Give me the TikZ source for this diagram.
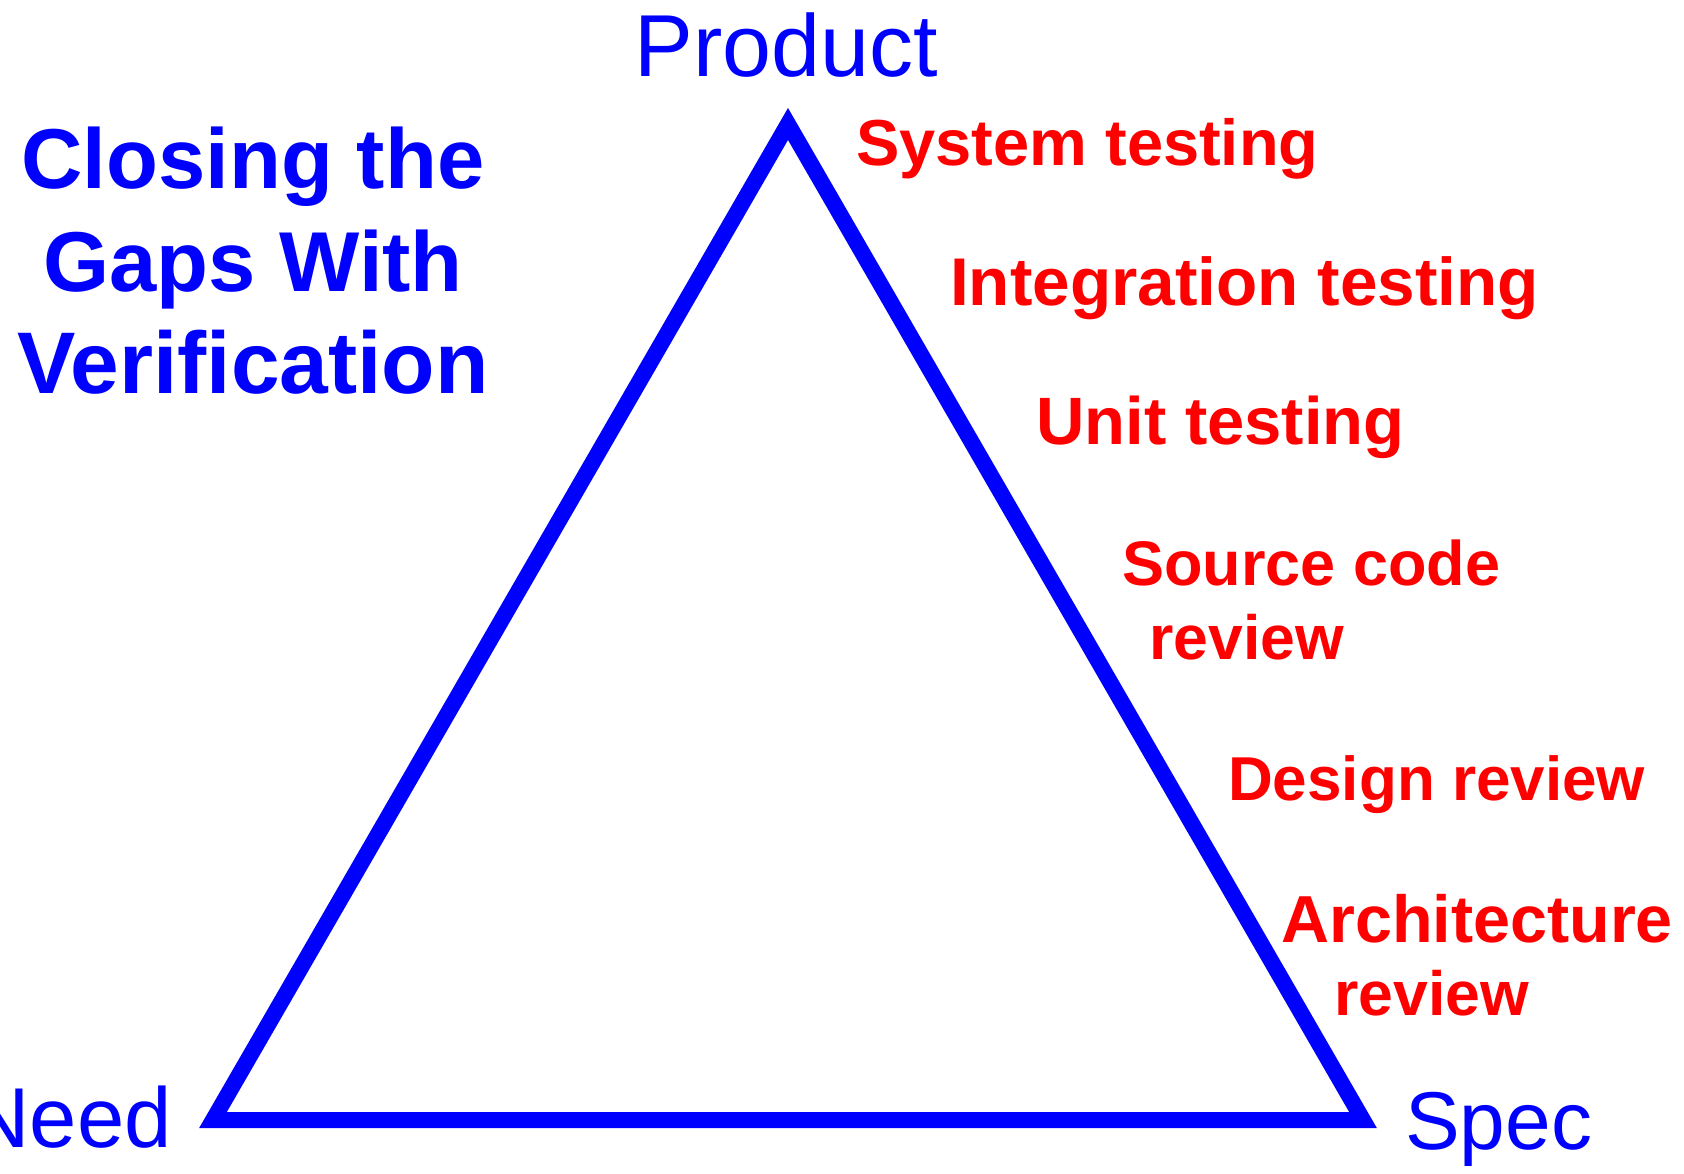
\documentclass[tikz,border=0pt]{standalone}
\usepackage{fontspec}
\setmainfont{Liberation Sans}
\definecolor{vblue}{RGB}{0,0,255}
\definecolor{vred}{RGB}{255,0,0}
\tikzset{
  tri/.style={draw=vblue, line width=16pt, line join=miter},
  corner/.style={text=vblue, inner sep=0pt, anchor=base},
  titletext/.style={text=vblue, inner sep=0pt, anchor=base, font=\fontsize{#1}{100}\selectfont\bfseries},
  titletext/.default=85,
  vstep/.style={text=vred, inner sep=0pt, anchor=base west, font=\fontsize{#1}{75}\selectfont\bfseries},
  vstep/.default=65
}
\begin{document}
\begin{tikzpicture}[x=1pt, y=-1pt]
\useasboundingbox (0,0) rectangle (1684,1174);
\coordinate (P) at (788,124);
\coordinate (N) at (213,1120);
\coordinate (S) at (1363,1120);
\draw[tri] (P) -- (S) -- (N) -- cycle;

\node[corner, font=\fontsize{88}{88}\selectfont] (product) at (786,77) {Product};
\node[corner, anchor=base east, font=\fontsize{85}{85}\selectfont] (need) at (172,1147) {Need};
\node[corner, anchor=base west, font=\fontsize{82}{82}\selectfont] (spec) at (1405,1149) {Spec};

\node[titletext] (t1) at (253,189) {Closing the};
\node[titletext] (t2) at (253,292) {Gaps With};
\node[titletext=87.5] (t3) at (253,393) {Verification};

\node[vstep=65] (sys) at (856,166) {System testing};
\node[vstep=67.5] (int) at (950,306) {Integration testing};
\node[vstep=67] (unit) at (1036,444) {Unit testing};
\node[vstep=63] (src1) at (1122,585) {Source code};
\node[vstep=62.5] (src2) at (1149,659) {review};
\node[vstep=62] (des) at (1228,800) {Design review};
\node[vstep=66.5] (arc1) at (1281,942) {Architecture};
\node[vstep=62.5] (arc2) at (1334,1015) {review};
\end{tikzpicture}
\end{document}
